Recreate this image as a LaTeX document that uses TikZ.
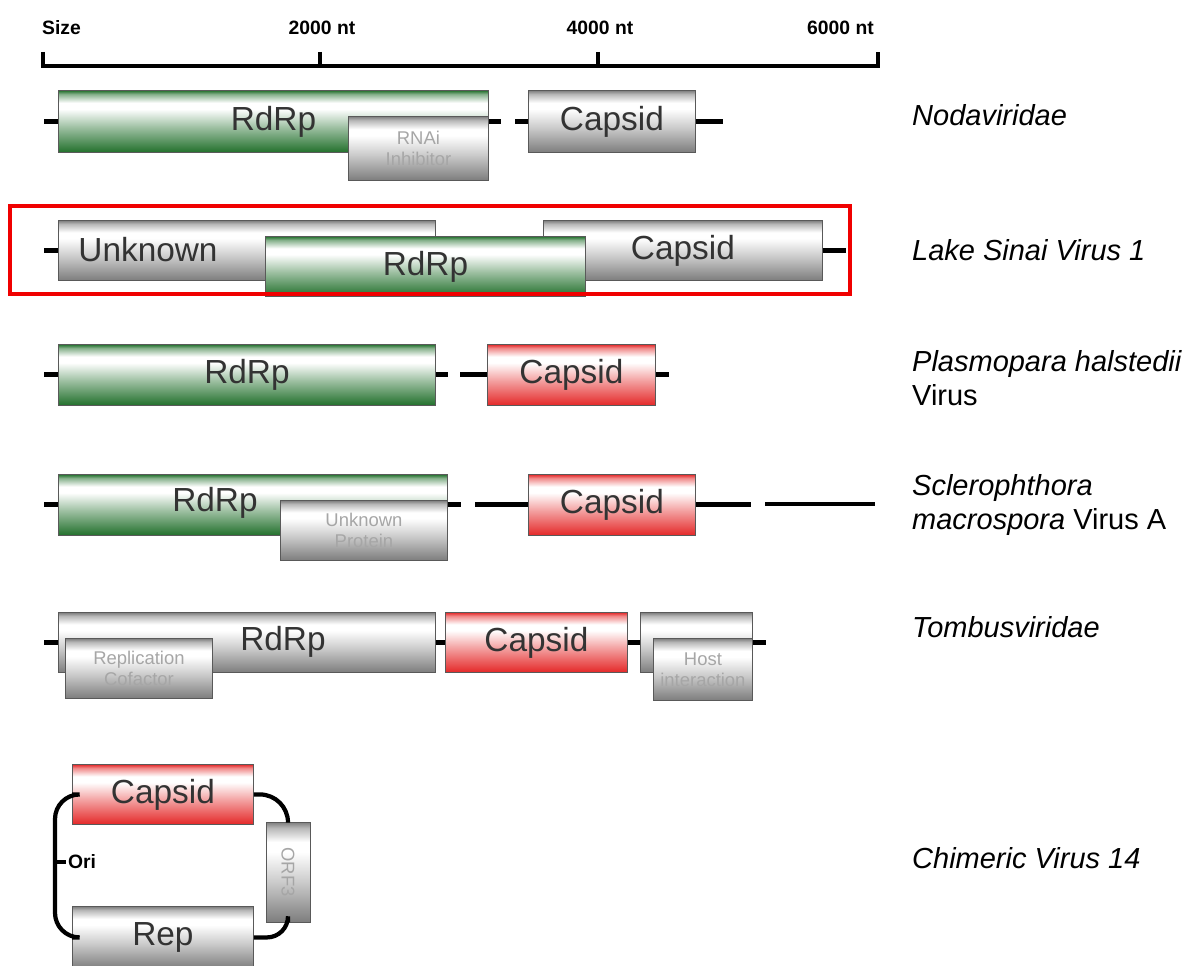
\documentclass[tikz,border=0pt]{standalone}
\usepackage{fontspec}
\setmainfont{Liberation Sans}
\usepackage{xcolor}
\usepackage{tikz}
\usetikzlibrary{calc}
\definecolor{GeneGreen}{RGB}{34,112,44}
\definecolor{GeneRed}{RGB}{228,40,40}
\definecolor{GeneGray}{RGB}{125,125,125}
\definecolor{FrameRed}{RGB}{240,0,0}

\pgfdeclareverticalshading{greenbar}{100bp}{color(0bp)=(GeneGreen); color(25bp)=(GeneGreen); color(45bp)=(GeneGreen!45); color(60bp)=(white); color(65bp)=(white); color(72bp)=(GeneGreen!55); color(75bp)=(GeneGreen); color(100bp)=(GeneGreen)}
\pgfdeclareverticalshading{redbar}{100bp}{color(0bp)=(GeneRed); color(25bp)=(GeneRed); color(45bp)=(GeneRed!45); color(60bp)=(white); color(65bp)=(white); color(72bp)=(GeneRed!55); color(75bp)=(GeneRed); color(100bp)=(GeneRed)}
\pgfdeclareverticalshading{graybar}{100bp}{color(0bp)=(GeneGray); color(25bp)=(GeneGray); color(45bp)=(GeneGray!40); color(60bp)=(white); color(65bp)=(white); color(72bp)=(GeneGray!55); color(75bp)=(GeneGray); color(100bp)=(GeneGray)}

\tikzset{
  gene/.style={draw=black!65, line width=0.5pt, inner sep=0pt, anchor=north west,
    text=black!80, font=\fontsize{19}{19}\selectfont},
  dims/.style 2 args={minimum width=#1*0.02cm, minimum height=#2*0.02cm},
  greengene/.style={gene, shading=greenbar},
  redgene/.style={gene, shading=redbar},
  graygene/.style={gene, shading=graybar},
  minorgene/.style={graygene, font=\fontsize{10.5}{12}\selectfont, text=black!35, align=center},
  genetext/.style={text=black!80, font=\fontsize{19}{19}\selectfont},
  backbone/.style={line width=2.8pt, black},
  ringline/.style={line width=2.4pt, black},
  scaleline/.style={line width=2pt, black},
  scalelabel/.style={font=\fontsize{11}{11}\selectfont\bfseries},
  species/.style={anchor=west, font=\fontsize{16.5}{19}\selectfont\itshape, align=left},
}

\begin{document}
\begin{tikzpicture}[x=0.02cm,y=-0.02cm]
  \useasboundingbox (0,0) rectangle (1189,966);

  % size scale
  \draw[scaleline] (43,52) -- (43,66) -- (878,66) -- (878,52);
  \foreach \x in {320,598}
    \draw[scaleline] (\x,52) -- (\x,66);
  \node[scalelabel, anchor=west] (sizeL) at (36,28) {Size};
  \foreach \x/\n in {322/2000,600/4000}
    \node[scalelabel] (scale\n) at (\x,28) {\n\ nt};
  \node[scalelabel, anchor=east] (scale6000) at (880,28) {6000 nt};

  % Nodaviridae
  \node[greengene, dims={430}{62}] (rdrpN) at (58,90) {RdRp};
  \node[minorgene, dims={140}{64}] (rnaiN) at (348,116) {RNAi\\Inhibitor};
  \node[graygene, dims={167}{62}] (capsN) at (528,90) {Capsid};
  \draw[backbone] (rdrpN.west) -- ++(-14,0);
  \draw[backbone] (rdrpN.east) -- ++(12,0);
  \draw[backbone] (capsN.west) -- ++(-13,0);
  \draw[backbone] (capsN.east) -- ++(27,0);

  % Lake Sinai Virus 1
  \node[graygene, dims={377}{60}] (unkL) at (58,220) {};
  \node[genetext] (unkT) at (148,250) {Unknown};
  \node[graygene, dims={279}{60}] (capsL) at (543,220) {Capsid};
  \node[greengene, dims={320}{60}] (rdrpL) at (265,236) {RdRp};
  \draw[backbone] (unkL.west) -- ++(-14,0);
  \draw[backbone] (capsL.east) -- ++(23,0);
  \draw[FrameRed, line width=2.4pt] (10,206) rectangle (850,294);

  % Plasmopara halstedii Virus
  \node[greengene, dims={377}{61}] (rdrpP) at (58,344) {RdRp};
  \node[redgene, dims={168}{61}] (capsP) at (487,344) {Capsid};
  \draw[backbone] (rdrpP.west) -- ++(-14,0);
  \draw[backbone] (rdrpP.east) -- ++(12,0);
  \draw[backbone] (capsP.west) -- ++(-27,0);
  \draw[backbone] (capsP.east) -- ++(13,0);

  % Sclerophthora macrospora Virus A
  \node[greengene, dims={389}{61}] (rdrpS) at (58,474) {};
  \node[genetext] (rdrpST) at (215,503) {RdRp};
  \node[minorgene, dims={167}{60}] (unkS) at (280,500) {Unknown\\Protein};
  \node[redgene, dims={167}{61}] (capsS) at (528,474) {Capsid};
  \coordinate (tailA) at (765,504);
  \coordinate (tailB) at (875,504);
  \draw[backbone] (rdrpS.west) -- ++(-14,0);
  \draw[backbone] (rdrpS.east) -- ++(13,0);
  \draw[backbone] (capsS.west) -- ++(-53,0);
  \draw[backbone] (capsS.east) -- ++(55,0);
  \draw[backbone] (tailA) -- (tailB);

  % Tombusviridae
  \node[graygene, dims={377}{60}] (rdrpT) at (58,612) {};
  \node[genetext] (rdrpTT) at (283,642) {RdRp};
  \node[minorgene, dims={147}{60}] (replT) at (65,638) {Replication\\Cofactor};
  \node[redgene, dims={182}{60}] (capsT) at (445,612) {Capsid};
  \node[graygene, dims={112}{60}] (hostT) at (640,612) {};
  \node[minorgene, dims={99}{62}] (hostI) at (653,638) {Host\\interaction};
  \draw[backbone] (rdrpT.west) -- ++(-14,0);
  \draw[backbone] (rdrpT.east) -- (capsT.west);
  \draw[backbone] (capsT.east) -- (hostT.west);
  \draw[backbone] (hostT.east) -- ++(13,0);

  % Chimeric Virus 14
  \node[redgene, dims={181}{60}] (capsC) at (72,764) {Capsid};
  \node[graygene, dims={181}{62}] (repC) at (72,906) {Rep};
  \node[minorgene, anchor=center, rotate=-90, dims={100}{44}] (orfC) at (288,872) {ORF3};
  \draw[ringline, rounded corners=14] (capsC.west) -- ++(-17,0) |- (repC.west);
  \draw[ringline, rounded corners=16] (capsC.east) -| (orfC.west);
  \draw[ringline, rounded corners=12] (orfC.east) |- (repC.east);
  \coordinate (ori) at (55,862);
  \node[scalelabel, anchor=west, inner sep=1pt] (oriL) at (66,862) {Ori};
  \draw[ringline] (ori) -- (oriL.west);

  % species names
  \node[species] (nodaL) at (906,115) {Nodaviridae};
  \node[species] (lsvL) at (906,250) {Lake Sinai Virus 1};
  \node[species] (phvL) at (906,378) {Plasmopara halstedii\\{\upshape Virus}};
  \node[species] (smvL) at (906,505) {Sclerophthora\\macrospora {\upshape Virus A}};
  \node[species] (tombL) at (906,627) {Tombusviridae};
  \node[species] (chimL) at (906,858) {Chimeric Virus 14};
\end{tikzpicture}
\end{document}
